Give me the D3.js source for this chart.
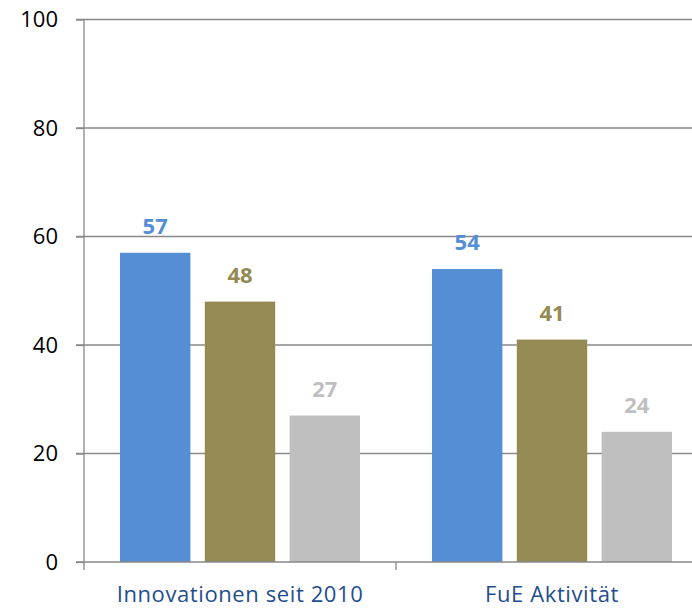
<!DOCTYPE html>
<html>
<head>
<meta charset="utf-8">
<title>Balkendiagramm</title>
<script src="https://cdn.jsdelivr.net/npm/d3@7"></script>
<style>
  body { margin: 0; background: #fff; }
  text { font-family: "Open Sans", sans-serif; }
</style>
</head>
<body>
<svg width="692" height="609"></svg>
<script>
// data
var categories = ["Innovationen seit 2010", "FuE Aktivität"];
var seriesNames = ["s1", "s2", "s3"];
var series1 = [57, 54];
var series2 = [48, 41];
var series3 = [27, 24];
var yTicks = [0, 20, 40, 60, 80, 100];
var colors = ["#558ed5", "#948a54", "#bfbfbf"];

var svg = d3.select("svg");
var margin = {left: 84, top: 19.5, bottom: 47};
var plotW = 624; // runs past the right edge, like the original
var plotH = 609 - margin.top - margin.bottom;

var g = svg.append("g")
  .attr("transform", "translate(" + margin.left + "," + margin.top + ")");

var x0 = d3.scaleBand().domain(categories).range([0, plotW]).paddingInner(0).paddingOuter(0);
var x1 = d3.scaleBand().domain(seriesNames).range([36, x0.bandwidth() - 36]).paddingInner(0.17).paddingOuter(0);
var y = d3.scaleLinear().domain([0, 100]).range([plotH, 0]);

// grid lines
g.selectAll(".grid").data(yTicks.filter(function(d){ return d > 0; }))
  .enter().append("line")
  .attr("x1", -8).attr("x2", plotW)
  .attr("y1", function(d){ return y(d); }).attr("y2", function(d){ return y(d); })
  .attr("stroke", "#888").attr("stroke-width", 1.3);

// y axis
var yAxis = g.append("g").call(d3.axisLeft(y).tickValues(yTicks).tickSize(8).tickPadding(18));
yAxis.select(".domain").attr("stroke", "#888").attr("stroke-width", 1.3).attr("d", "M0," + plotH + "V0");
yAxis.selectAll(".tick line").attr("stroke", "#888").attr("stroke-width", 1.3);
yAxis.selectAll(".tick text").attr("font-size", 22).attr("fill", "#000")
  .style("font-family", "'Open Sans', sans-serif");

// bars
var data = [series1, series2, series3];
var groups = g.selectAll(".grp").data(categories).enter().append("g")
  .attr("transform", function(d){ return "translate(" + x0(d) + ",0)"; });

groups.each(function(cat, ci) {
  var gg = d3.select(this);
  var vals = data.map(function(s, si){ return {name: seriesNames[si], v: s[ci], c: colors[si]}; });
  gg.selectAll("rect").data(vals).enter().append("rect")
    .attr("x", function(d){ return x1(d.name); })
    .attr("width", x1.bandwidth())
    .attr("y", function(d){ return y(d.v); })
    .attr("height", function(d){ return plotH - y(d.v); })
    .attr("fill", function(d){ return d.c; });
  gg.selectAll("text").data(vals).enter().append("text")
    .attr("x", function(d){ return x1(d.name) + x1.bandwidth() / 2; })
    .attr("y", function(d){ return y(d.v) - 19; })
    .attr("text-anchor", "middle")
    .attr("font-size", 22).attr("font-weight", "bold")
    .attr("fill", function(d){ return d.c; })
    .text(function(d){ return d.v; });
});

// x axis
var xAxis = g.append("g").attr("transform", "translate(0," + plotH + ")")
  .call(d3.axisBottom(x0).tickSize(0).tickPadding(24));
xAxis.select(".domain").attr("stroke", "#888").attr("stroke-width", 1.3).attr("d", "M-8,0H" + plotW);
xAxis.selectAll(".tick text").attr("font-size", 22).attr("fill", "#1f4e8c")
  .attr("letter-spacing", 0.6)
  .style("font-family", "'Open Sans', sans-serif");
// small ticks between categories
g.selectAll(".sep").data([0, plotW / 2, plotW]).enter().append("line")
  .attr("x1", function(d){ return d; }).attr("x2", function(d){ return d; })
  .attr("y1", plotH).attr("y2", plotH + 8)
  .attr("stroke", "#888").attr("stroke-width", 1.3);
</script>
</body>
</html>
